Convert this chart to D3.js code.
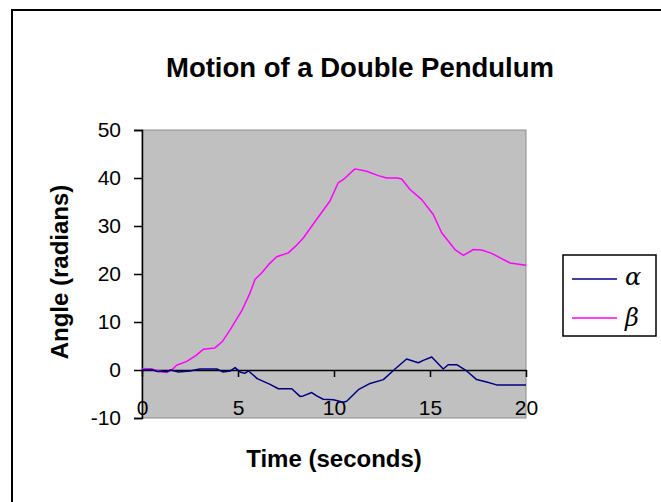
<!DOCTYPE html>
<html>
<head>
<meta charset="utf-8">
<script src="https://cdn.jsdelivr.net/npm/d3@7"></script>
<style>
  html, body { margin: 0; padding: 0; background: #fff; }
  svg { display: block; }
</style>
</head>
<body>
<svg id="chart" width="661" height="502"></svg>
<script>
// Angles of the two pendulum arms over time
const alphaTime  = [0, 0.5, 0.8, 1.3, 1.5, 1.9, 2.5, 3.0, 3.9, 4.2, 4.6, 4.85, 5.1, 5.35, 5.55, 6.0, 6.67, 7.1, 7.8, 8.23, 8.4, 8.84, 9.1, 9.44, 9.97, 10.48, 10.66, 11.27, 11.88, 12.57, 13.15, 13.78, 14.39, 14.65, 15.09, 15.69, 15.95, 16.39, 16.91, 17.43, 17.95, 18.47, 20];
const alphaAngle = [0.0, 0.1, -0.3, -0.3, 0.0, -0.4, -0.2, 0.2, 0.2, -0.4, -0.2, 0.5, -0.4, -0.7, -0.2, -1.8, -3.0, -3.9, -3.9, -5.5, -5.4, -4.7, -5.4, -6.1, -6.2, -6.7, -6.5, -4.1, -2.8, -2.0, 0.1, 2.3, 1.5, 2.0, 2.7, 0.2, 1.1, 1.1, -0.2, -2.0, -2.5, -3.1, -3.1];

const betaTime  = [0, 0.5, 0.9, 1.3, 1.55, 1.8, 2.33, 2.8, 3.19, 3.8, 4.2, 4.58, 5.19, 5.6, 5.89, 6.23, 6.6, 7.01, 7.62, 8.0, 8.4, 9.1, 9.79, 10.22, 10.49, 11.09, 11.7, 12.31, 12.74, 13.3, 13.52, 13.96, 14.57, 15.17, 15.61, 16.3, 16.74, 17.26, 17.69, 18.21, 18.73, 19.17, 20];
const betaAngle = [0.3, 0.2, -0.2, -0.5, 0.0, 1.0, 1.8, 3.0, 4.3, 4.6, 6.0, 8.3, 12.3, 15.8, 18.9, 20.2, 22.0, 23.6, 24.4, 25.8, 27.5, 31.4, 35.2, 39.0, 39.7, 41.9, 41.4, 40.5, 40.0, 40.0, 39.8, 37.6, 35.5, 32.4, 28.6, 25.1, 23.9, 25.1, 25.0, 24.3, 23.2, 22.3, 21.8];

const xTicks = [0, 5, 10, 15, 20];
const yTicks = [-10, 0, 10, 20, 30, 40, 50];
const seriesNames = ["\u03b1", "\u03b2"];
const seriesColors = ["#000080", "#ff00ff"];

const svg = d3.select("#chart");

// outer chart frame
svg.append("rect")
  .attr("x", 12).attr("y", 10)
  .attr("width", 720).attr("height", 620)
  .attr("fill", "#fff")
  .attr("stroke", "#000")
  .attr("stroke-width", 2);

const plot = { left: 142, top: 130, right: 526, bottom: 418 };

const x = d3.scaleLinear().domain([0, 20]).range([plot.left, plot.right]);
const y = d3.scaleLinear().domain([-10, 50]).range([plot.bottom, plot.top]);

// plot area
svg.append("rect")
  .attr("x", plot.left).attr("y", plot.top)
  .attr("width", plot.right - plot.left)
  .attr("height", plot.bottom - plot.top)
  .attr("fill", "#c0c0c0")
  .attr("stroke", "#8c8c8c")
  .attr("stroke-width", 1);

// title
svg.append("text")
  .attr("x", 360).attr("y", 77)
  .attr("text-anchor", "middle")
  .attr("font-family", "Liberation Sans, Arial, sans-serif")
  .attr("font-weight", "bold")
  .attr("font-size", 27.5)
  .attr("fill", "#000")
  .text("Motion of a Double Pendulum");

const fmt = d => (d < 0 ? "-" : "") + Math.abs(d);

// y axis
const yAxis = svg.append("g")
  .attr("transform", `translate(${plot.left},0)`)
  .call(d3.axisLeft(y).tickValues(yTicks).tickFormat(fmt).tickSize(8).tickPadding(13));
yAxis.select(".domain").attr("stroke", "#000").attr("stroke-width", 1.5);
yAxis.selectAll(".tick line").attr("stroke", "#000").attr("stroke-width", 1.5);
yAxis.selectAll(".tick text")
  .attr("font-family", "Liberation Sans, Arial, sans-serif")
  .attr("font-size", 21)
  .attr("fill", "#000");

// x axis crossing at zero
const xAxis = svg.append("g")
  .attr("transform", `translate(0,${y(0)})`)
  .call(d3.axisBottom(x).tickValues(xTicks).tickFormat(fmt).tickSize(7).tickSizeOuter(0).tickPadding(22));
xAxis.select(".domain").attr("stroke", "#000").attr("stroke-width", 1.5);
xAxis.selectAll(".tick line").attr("stroke", "#000").attr("stroke-width", 1.5);
xAxis.selectAll(".tick text")
  .attr("font-family", "Liberation Sans, Arial, sans-serif")
  .attr("font-size", 21)
  .attr("fill", "#000")
  .attr("dy", "0")
  .attr("y", 44.5);

// series lines
const line = d3.line().x(d => x(d[0])).y(d => y(d[1]));
const series = [
  d3.zip(alphaTime, alphaAngle),
  d3.zip(betaTime, betaAngle)
];
// beta first so alpha sits on top near zero
[1, 0].forEach(i => {
  svg.append("path")
    .datum(series[i])
    .attr("fill", "none")
    .attr("stroke", seriesColors[i])
    .attr("stroke-width", 1.5)
    .attr("stroke-linejoin", "round")
    .attr("d", line);
});

// axis titles
svg.append("text")
  .attr("x", 334).attr("y", 467)
  .attr("text-anchor", "middle")
  .attr("font-family", "Liberation Sans, Arial, sans-serif")
  .attr("font-weight", "bold")
  .attr("font-size", 24)
  .attr("fill", "#000")
  .text("Time (seconds)");

svg.append("text")
  .attr("transform", "translate(67.5,272) rotate(-90)")
  .attr("text-anchor", "middle")
  .attr("font-family", "Liberation Sans, Arial, sans-serif")
  .attr("font-weight", "bold")
  .attr("font-size", 24)
  .attr("fill", "#000")
  .text("Angle (radians)");

// legend
const legend = svg.append("g").attr("transform", "translate(563,255)");
legend.append("rect")
  .attr("width", 93).attr("height", 81)
  .attr("fill", "#fff")
  .attr("stroke", "#000")
  .attr("stroke-width", 1.5);
seriesNames.forEach((name, i) => {
  const cy = 24 + i * 39;
  legend.append("line")
    .attr("x1", 9).attr("x2", 54)
    .attr("y1", cy).attr("y2", cy)
    .attr("stroke", seriesColors[i])
    .attr("stroke-width", 1.6);
  legend.append("text")
    .attr("x", 62).attr("y", cy + 6 + i * 2)
    .attr("font-family", "DejaVu Serif, serif")
    .attr("font-style", "italic")
    .attr("font-size", 24)
    .attr("fill", "#000")
    .text(name);
});
</script>
</body>
</html>
